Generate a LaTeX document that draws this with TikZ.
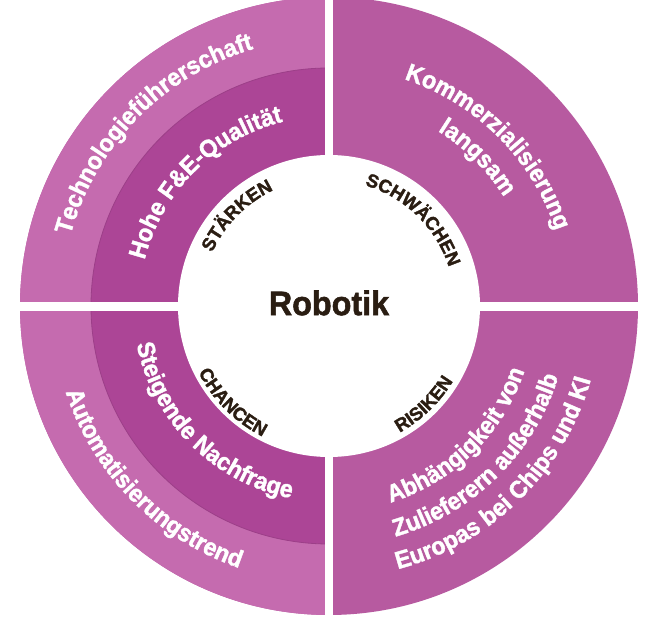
\documentclass[tikz,border=0pt]{standalone}
\usepackage{fontspec}
\setmainfont{Liberation Sans}
\newfontfamily\mainF[BoldFeatures={FakeBold=1.6,FakeStretch=0.95}]{Liberation Sans}
\newfontfamily\labF[BoldFeatures={FakeBold=1.8}]{Liberation Sans}
\usetikzlibrary{decorations.text}
\definecolor{outerL}{HTML}{C56BAF}
\definecolor{innerL}{HTML}{AC4596}
\definecolor{rightC}{HTML}{B75AA0}
\definecolor{lineL}{HTML}{9C3F88}
\definecolor{darktxt}{HTML}{2A1D12}
\newcommand\bigfnt{\mainF\fontsize{24.5}{28}\selectfont\bfseries}
\newcommand\labfnt{\labF\fontsize{18.5}{22}\selectfont\bfseries}
% clockwise arc text (tops outward): angle, radius, font, colour, text
\newcommand\arcCW[5]{\path[decorate, decoration={text along path, text align=center, text color=#4, text={|#3|#5}}] (#1+70:#2) arc[start angle=#1+70, end angle=#1-70, radius=#2];}
% counter-clockwise arc text (tops inward)
\newcommand\arcCCW[5]{\path[decorate, decoration={text along path, text align=center, text color=#4, text={|#3|#5}}] (#1-70:#2) arc[start angle=#1-70, end angle=#1+70, radius=#2];}
\begin{document}
\begin{tikzpicture}[x=1pt,y=1pt]
\useasboundingbox (0,0) rectangle (648,624);
\clip (0,0) rectangle (648,624);
\begin{scope}[shift={(329,318)}]
  \fill[rightC] (0,0) circle (309);
  \fill[outerL] (90:309) arc[start angle=90, end angle=270, radius=309] -- cycle;
  \fill[innerL] (90:238) arc[start angle=90, end angle=270, radius=238] -- cycle;
  \draw[lineL, line width=0.8] (90:238) arc[start angle=90, end angle=270, radius=238];
  \fill[white] (0,0) circle (151);
  \fill[white] (-4,-330) rectangle (4,330);
  \fill[white] (-340,-5) rectangle (340,4);
  % texts
  \arcCW{135.5}{268}{\bigfnt}{white}{Technologieführerschaft}
  \arcCW{135}{190}{\bigfnt}{white}{Hohe F{\&}E-Qualität}
  \arcCW{135.5}{128.5}{\labfnt}{darktxt}{STÄRKEN}
  \arcCW{45.7}{126}{\labfnt}{darktxt}{SCHWÄCHEN}
  \arcCW{45}{239}{\bigfnt}{white}{Kommerzialisierung}
  \arcCW{45}{206}{\bigfnt}{white}{langsam}
  \arcCCW{-45.5}{206}{\bigfnt}{white}{Abhängigkeit von}
  \arcCCW{-45.5}{240}{\bigfnt}{white}{Zulieferern außerhalb}
  \arcCCW{-45.5}{272}{\bigfnt}{white}{Europas bei Chips und KI}
  \arcCCW{-46}{145}{\labfnt}{darktxt}{RISIKEN}
  \arcCCW{225}{146.5}{\labfnt}{darktxt}{CHANCEN}
  \arcCCW{225}{196}{\bigfnt}{white}{Steigende Nachfrage}
  \arcCCW{224.6}{277}{\bigfnt}{white}{Automatisierungstrend}
\end{scope}
\node[font=\mainF\fontsize{34}{38}\selectfont\bfseries, text=darktxt] (title) at (329,321) {Robotik};
\end{tikzpicture}
\end{document}
